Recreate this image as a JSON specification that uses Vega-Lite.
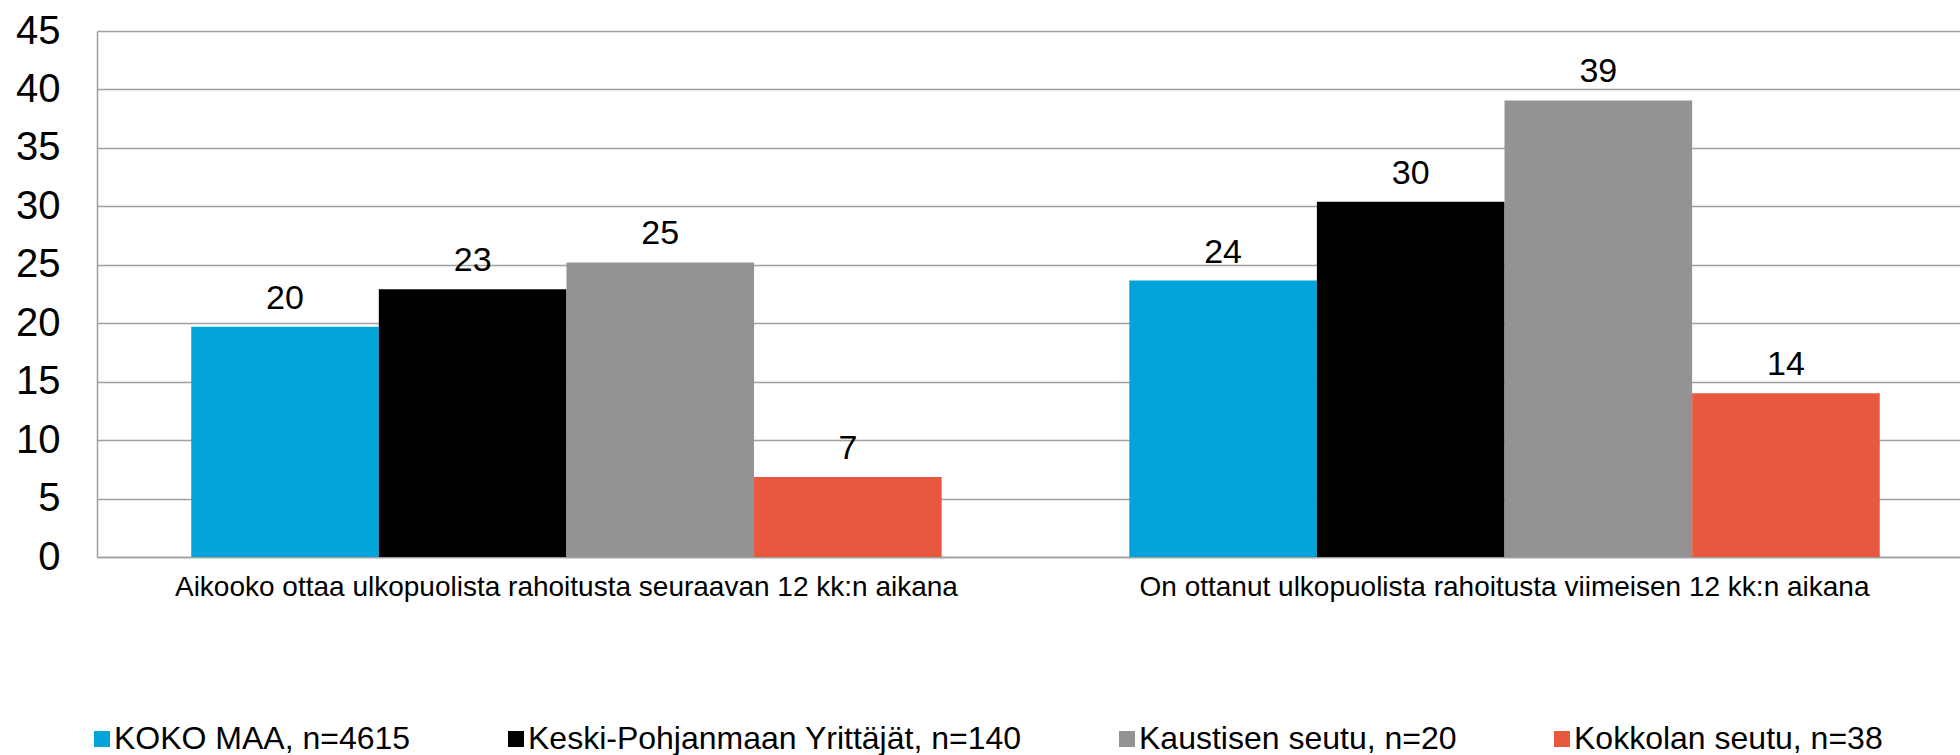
{
  "$schema": "https://vega.github.io/schema/vega-lite/v6.json",
  "width": 1863,
  "height": 526,
  "autosize": "none",
  "padding": {"left": 97, "top": 31, "right": 0, "bottom": 198},
  "background": "white",
  "config": {
    "font": "Liberation Sans",
    "view": {"stroke": null},
    "axis": {"labelFont": "Liberation Sans", "labelColor": "#000000"},
    "legend": {"labelFont": "Liberation Sans"}
  },
  "data": {
    "values": [
      {"kysymys": "Aikooko ottaa ulkopuolista rahoitusta seuraavan 12 kk:n aikana", "ryhma": "KOKO MAA, n=4615", "arvo": 19.7},
      {"kysymys": "Aikooko ottaa ulkopuolista rahoitusta seuraavan 12 kk:n aikana", "ryhma": "Keski-Pohjanmaan Yrittäjät, n=140", "arvo": 22.9},
      {"kysymys": "Aikooko ottaa ulkopuolista rahoitusta seuraavan 12 kk:n aikana", "ryhma": "Kaustisen seutu, n=20", "arvo": 25.2},
      {"kysymys": "Aikooko ottaa ulkopuolista rahoitusta seuraavan 12 kk:n aikana", "ryhma": "Kokkolan seutu, n=38", "arvo": 6.85},
      {"kysymys": "On ottanut ulkopuolista rahoitusta viimeisen 12 kk:n aikana", "ryhma": "KOKO MAA, n=4615", "arvo": 23.65},
      {"kysymys": "On ottanut ulkopuolista rahoitusta viimeisen 12 kk:n aikana", "ryhma": "Keski-Pohjanmaan Yrittäjät, n=140", "arvo": 30.4},
      {"kysymys": "On ottanut ulkopuolista rahoitusta viimeisen 12 kk:n aikana", "ryhma": "Kaustisen seutu, n=20", "arvo": 39.06},
      {"kysymys": "On ottanut ulkopuolista rahoitusta viimeisen 12 kk:n aikana", "ryhma": "Kokkolan seutu, n=38", "arvo": 14.0}
    ]
  },
  "encoding": {
    "x": {
      "field": "kysymys",
      "type": "nominal",
      "sort": null,
      "scale": {"paddingInner": 0.2, "paddingOuter": 0.093, "align": 0.54},
      "axis": {
        "title": null,
        "labelAngle": 0,
        "labelFontSize": 28,
        "labelPadding": 16,
        "ticks": false,
        "domainColor": "#a0a0a0",
        "domainWidth": 1.5,
        "labelLimit": 0
      }
    },
    "xOffset": {
      "field": "ryhma",
      "type": "nominal",
      "sort": ["KOKO MAA, n=4615", "Keski-Pohjanmaan Yrittäjät, n=140", "Kaustisen seutu, n=20", "Kokkolan seutu, n=38"],
      "scale": {"paddingInner": 0, "paddingOuter": 0}
    },
    "y": {
      "field": "arvo",
      "type": "quantitative",
      "scale": {"domain": [0, 45], "nice": false},
      "axis": {
        "title": null,
        "values": [0, 5, 10, 15, 20, 25, 30, 35, 40, 45],
        "labelFontSize": 40,
        "labelPadding": 37,
        "ticks": false,
        "grid": true,
        "gridColor": "#a0a0a0",
        "gridWidth": 1.5,
        "domainColor": "#a0a0a0",
        "domainWidth": 1.5
      }
    }
  },
  "layer": [
    {
      "mark": {"type": "bar"},
      "encoding": {
        "color": {
          "field": "ryhma",
          "type": "nominal",
          "scale": {
            "domain": ["KOKO MAA, n=4615", "Keski-Pohjanmaan Yrittäjät, n=140", "Kaustisen seutu, n=20", "Kokkolan seutu, n=38"],
            "range": ["#03A4DA", "#000000", "#939393", "#E8573F"]
          },
          "legend": {
            "title": null,
            "orient": "none",
            "direction": "horizontal",
            "columns": 4,
            "legendX": -11,
            "legendY": 692,
            "symbolType": "square",
            "symbolSize": 256,
            "symbolStrokeWidth": 0,
            "labelFontSize": 32,
            "labelOffset": -4,
            "columnPadding": 89,
            "labelLimit": 0,
            "labelColor": "#000000"
          }
        }
      }
    },
    {
      "mark": {"type": "text", "baseline": "alphabetic", "dy": -18, "fontSize": 34, "color": "#000000"},
      "encoding": {
        "text": {"field": "arvo", "type": "quantitative", "format": ".0f"}
      }
    }
  ]
}
